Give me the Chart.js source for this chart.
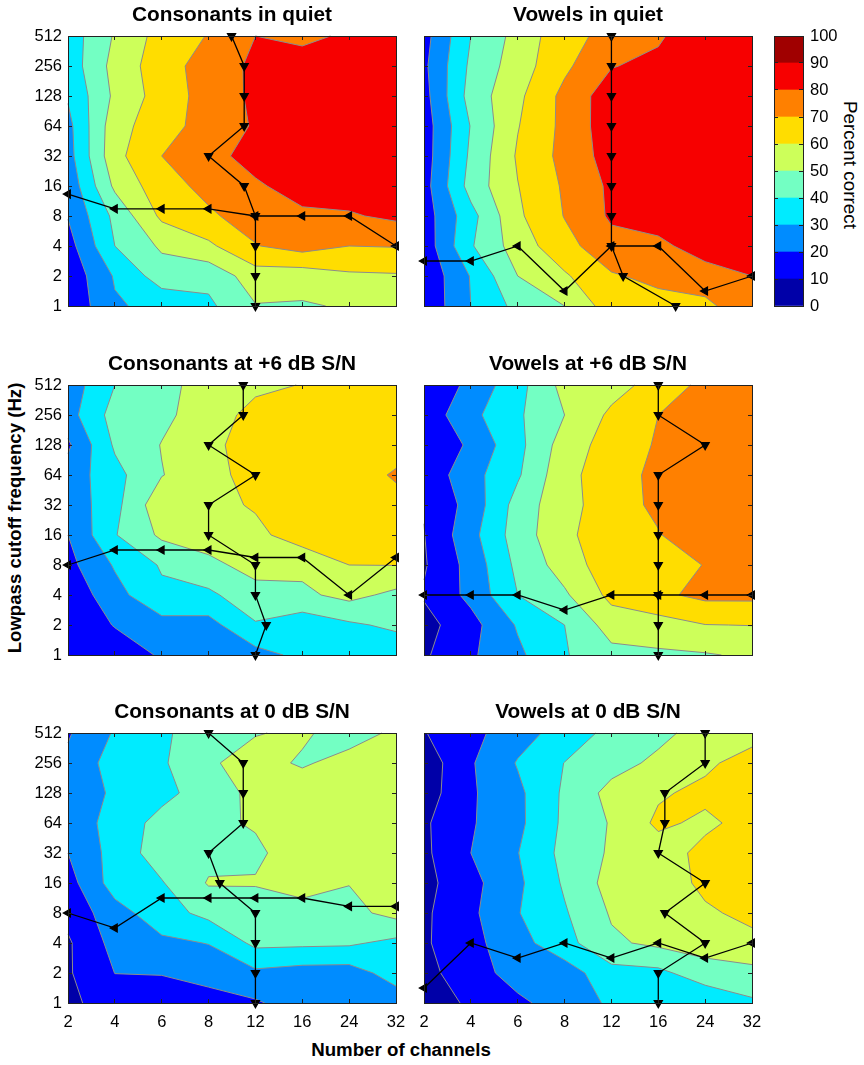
<!DOCTYPE html>
<html>
<head>
<meta charset="utf-8">
<title>Consonant and vowel recognition</title>
<script src="https://cdn.jsdelivr.net/npm/chart.js@4"></script>
<style>
  html, body { margin: 0; padding: 0; background: #fff; }
  body { position: relative; width: 864px; height: 1065px; overflow: hidden; font-family: "Liberation Sans", sans-serif; }
  canvas { position: absolute; }
  .axis-label { position: absolute; white-space: nowrap; color: #000; transform: translate(-50%, -50%); }
</style>
</head>
<body>
<div class="axis-label" style="left:15px;top:518px;font-size:18.6px;font-weight:bold;transform:translate(-50%,-50%) rotate(-90deg)">Lowpass cutoff frequency (Hz)</div>
<div class="axis-label" style="left:401px;top:1050px;font-size:18.7px;font-weight:bold">Number of channels</div>
<div class="axis-label" style="left:850px;top:165px;font-size:18.9px;transform:translate(-50%,-50%) rotate(90deg)">Percent correct</div>
<script>
const channelLabels = ["2", "4", "6", "8", "12", "16", "24", "32"];
const frequencyLabels = ["1", "2", "4", "8", "16", "32", "64", "128", "256", "512"];
const levels = [0, 10, 20, 30, 40, 50, 60, 70, 80, 90];
const levelColors = ["#0000a8", "#0000ff", "#008cff", "#00ebff", "#73ffc3", "#cdff5a", "#ffdd00", "#ff8000", "#f70000", "#a00000"];
const colorTicks = [0, 10, 20, 30, 40, 50, 60, 70, 80, 90, 100];

// percent correct, rows run from 512 Hz down to 1 Hz, columns are channelLabels
const consonantsQuiet = [
  [34.5, 51, 64, 70.5, 80, 78.5, 81, 85],
  [34, 53.5, 65.5, 74.5, 82, 83, 84, 86],
  [31, 52, 64.5, 74, 82, 84, 85, 86],
  [27, 56, 66, 74, 81, 85, 85, 86],
  [26, 57, 70, 76.5, 84, 86, 87, 87],
  [23, 52, 66, 72.8, 78.5, 84.5, 85, 87],
  [20.5, 42.5, 62, 68.5, 74.5, 78, 79, 82],
  [16, 40, 51.6, 58, 69.5, 74, 70, 70.5],
  [12.8, 31, 45, 43, 55.3, 54.5, 58.4, 59],
  [12, 28.8, 33, 38, 49.5, 49, 51, 53]
];
const vowelsQuiet = [
  [16.4, 40, 53.4, 66.7, 73, 78.5, 88, 88],
  [18, 42, 55, 68, 79.5, 82.7, 87, 88],
  [16.5, 44, 57.8, 72.8, 85.7, 88, 88, 88],
  [15, 40.5, 59.5, 72.6, 86, 88, 88, 88],
  [15, 42, 61.2, 73, 84.3, 88, 88, 88],
  [16, 44, 59.7, 71.3, 81.9, 87, 88, 88],
  [15, 36.5, 58.3, 70.4, 81.5, 85, 87, 88],
  [14, 39, 54.8, 66.7, 76.5, 77.5, 85, 86],
  [12, 30.6, 50, 58.7, 69, 72.5, 75.4, 80],
  [12, 30, 43, 50, 65.4, 66.5, 67.6, 77]
];
const consonantsPlus6 = [
  [24.3, 40, 47, 54, 58, 60.3, 63, 63],
  [26, 44, 47.5, 55.5, 63, 65, 65, 65],
  [18.4, 41.4, 50.4, 57.8, 64, 65, 65, 65],
  [24, 36.8, 49.6, 56.4, 64, 65, 64, 71.4],
  [23, 37, 57, 57, 61, 65, 66, 66],
  [20, 39.4, 51.9, 54, 57.5, 65, 65, 66],
  [17, 31, 41, 47.9, 53, 52.5, 60, 60.2],
  [12.6, 26.5, 38, 37.8, 47, 48, 53, 47.5],
  [13, 20.5, 26.4, 26.5, 39, 34, 38.4, 42],
  [11, 15, 21, 24, 26.5, 32.4, 33, 33]
];
const vowelsPlus6 = [
  [10.4, 22.9, 36.3, 53.4, 56, 64, 72.7, 75],
  [13.6, 27.3, 38.5, 50, 62, 70, 76, 76],
  [10, 22, 37, 54.6, 64.4, 71, 77, 77],
  [13, 26.3, 38.7, 57, 65.5, 72.5, 78, 78],
  [10.5, 23.7, 44, 57, 64.5, 72.5, 78, 78],
  [9.7, 26.7, 44.9, 57.6, 66.5, 69.3, 78, 78],
  [9, 23.6, 42.5, 54.5, 66, 67.5, 70.2, 78],
  [11, 22.7, 40, 48.5, 62.8, 68, 72.5, 72.5],
  [6.5, 16.5, 31, 40, 54.5, 56, 59.8, 60.2],
  [8.6, 18.6, 28, 39.2, 47, 48.3, 49.2, 51.5]
];
const consonantsZero = [
  [19, 31, 38, 46.5, 49.6, 51.2, 46.5, 51.5],
  [22, 34.5, 38.6, 49, 53, 49, 53, 56],
  [24, 31.5, 37, 45, 52.5, 55, 56, 57],
  [24, 33.7, 43.5, 47.8, 51, 56, 57, 58],
  [20, 34, 45, 47, 48, 55.7, 58, 58],
  [16, 34.6, 39.3, 50.8, 50.8, 54.2, 50.3, 58],
  [13, 26, 35.6, 43, 44, 46, 47, 53.2],
  [8.7, 23.4, 28, 30.3, 42.4, 42, 41.5, 37.3],
  [8.9, 20.1, 20.3, 24, 28, 25.8, 25.5, 34.3],
  [7.5, 15.5, 16.5, 15.5, 18.8, 24.8, 25, 24.5]
];
const vowelsZero = [
  [9.5, 17, 26, 34, 43, 47.4, 54, 56],
  [4, 19, 30.7, 40.2, 46.2, 52.2, 58, 64.5],
  [5, 18.7, 27.8, 41.6, 53.3, 58.7, 62.5, 66],
  [8.5, 19, 27.6, 42, 50.8, 62, 57.9, 63.7],
  [8, 20, 29.7, 43, 51.3, 55, 63, 66],
  [7, 17, 28.1, 41.3, 53.8, 55, 62, 66],
  [8.3, 18, 29.5, 39, 51, 54, 58.7, 62.2],
  [8.7, 17, 26.3, 36.5, 48.4, 52.1, 54.5, 57.7],
  [6.9, 15.6, 24, 25, 36.5, 37.5, 45.5, 47],
  [5, 11.5, 18, 24.5, 31.5, 32, 32, 38.4]
];

// best channel position for each frequency, 512 Hz down to 1 Hz
const bestChannelConsonantsQuiet = [3.49, 3.76, 3.76, 3.76, 3, 3.76, 4, 4, 4, 4];
const bestChannelVowelsQuiet = [4, 4, 4, 4, 4, 4, 4, 4, 4.25, 5.37];
const bestChannelConsonantsPlus6 = [3.74, 3.74, 3, 4, 3, 3, 4, 4, 4.23, 4];
const bestChannelVowelsPlus6 = [5, 5, 6, 5, 5, 5, 5, 5, 5, 5];
const bestChannelConsonantsZero = [3, 3.74, 3.74, 3.74, 3, 3.24, 4, 4, 4, 4];
const bestChannelVowelsZero = [6, 6, 5.14, 5.14, 5, 6, 5.14, 6, 5, 5];

// best frequency position for each channel count
const bestFreqConsonantsQuiet = [3.73, 3.24, 3.24, 3.24, 3, 3, 3, 2];
const bestFreqVowelsQuiet = [1.5, 1.5, 2, 0.5, 2, 2, 0.5, 1];
const bestFreqConsonantsPlus6 = [3, 3.5, 3.5, 3.5, 3.25, 3.25, 2, 3.25];
const bestFreqVowelsPlus6 = [2, 2, 2, 1.5, 2, 2, 2, 2];
const bestFreqConsonantsZero = [3, 2.5, 3.5, 3.5, 3.5, 3.5, 3.22, 3.22];
const bestFreqVowelsZero = [0.5, 2, 1.5, 2, 1.5, 2, 1.5, 2];

Chart.defaults.font.family = '"Liberation Sans", sans-serif';
Chart.defaults.color = "#000";
Chart.defaults.animation = false;

// fills and outlines the contour bands for a grid, cell by cell
const contourPlugin = {
  id: "contour",
  beforeDatasetsDraw(chart, args, opts) {
    const grid = opts.grid;
    if (!grid) return;
    const { ctx, scales } = chart;
    const px = p => [scales.x.getPixelForValue(p.c), scales.y.getPixelForValue(p.r)];
    const lines = [];
    ctx.save();
    levels.forEach((level, k) => {
      ctx.beginPath();
      for (let r = 0; r < grid.length - 1; r++) {
        for (let c = 0; c < grid[r].length - 1; c++) {
          const corners = [
            { c: c, r: 9 - r, v: grid[r][c] },
            { c: c + 1, r: 9 - r, v: grid[r][c + 1] },
            { c: c + 1, r: 8 - r, v: grid[r + 1][c + 1] },
            { c: c, r: 8 - r, v: grid[r + 1][c] }
          ];
          const cell = clipCell(corners, level);
          cell.polys.forEach(poly => {
            poly.forEach((p, i) => {
              const [x, y] = px(p);
              if (i === 0) ctx.moveTo(x, y); else ctx.lineTo(x, y);
            });
            ctx.closePath();
          });
          if (level > 0) lines.push(...cell.segs);
        }
      }
      ctx.fillStyle = levelColors[k];
      ctx.fill();
    });
    ctx.beginPath();
    lines.forEach(([a, b]) => {
      ctx.moveTo(...px(a));
      ctx.lineTo(...px(b));
    });
    ctx.strokeStyle = "#8c8c8c";
    ctx.lineWidth = 1;
    ctx.stroke();
    ctx.restore();
  }
};

function crossing(a, b, level) {
  const t = (level - a.v) / (b.v - a.v);
  return { c: a.c + (b.c - a.c) * t, r: a.r + (b.r - a.r) * t };
}

// part of a grid cell at or above level, plus the contour pieces across it
function clipCell(corners, level) {
  const inside = corners.map(p => p.v >= level);
  const mean = corners.reduce((s, p) => s + p.v, 0) / 4;
  const saddle = inside[0] === inside[2] && inside[1] === inside[3] && inside[0] !== inside[1];
  const polys = [];
  const segs = [];

  // saddle with a low centre: the two high corners stay apart
  if (saddle && mean < level) {
    corners.forEach((p, i) => {
      if (!inside[i]) return;
      const before = crossing(corners[(i + 3) % 4], p, level);
      const after = crossing(p, corners[(i + 1) % 4], level);
      polys.push([before, p, after]);
      segs.push([after, before]);
    });
    return { polys, segs };
  }

  const poly = [];
  let firstEnter = null;
  let lastExit = null;
  corners.forEach((a, i) => {
    const b = corners[(i + 1) % 4];
    if (inside[i]) poly.push(a);
    if (inside[i] !== inside[(i + 1) % 4]) {
      const p = crossing(a, b, level);
      poly.push(p);
      if (inside[i]) {
        lastExit = p;
      } else if (lastExit) {
        segs.push([lastExit, p]);
        lastExit = null;
      } else {
        firstEnter = p;
      }
    }
  });
  if (lastExit && firstEnter) segs.push([lastExit, firstEnter]);
  if (poly.length) polys.push(poly);
  return { polys, segs };
}

// keeps the axis box at a fixed size, tick labels must not squeeze the plot
function fixSize(s, width, height) {
  if (width !== null) s.width = width;
  if (height !== null) s.height = height;
  s.paddingLeft = s.paddingRight = s.paddingTop = s.paddingBottom = 0;
}

function tickGrid() {
  return { drawOnChartArea: false, tickLength: -4, color: "#222", z: 1 };
}

function edgeAxis(axis, position, max, step) {
  return {
    type: "linear",
    axis,
    position,
    min: 0,
    max,
    ticks: { display: false, stepSize: step },
    grid: tickGrid(),
    border: { color: "#222", z: 1 },
    afterFit(s) { if (axis === "x") fixSize(s, null, 0); else fixSize(s, 0, null); }
  };
}

function pathDataset(points, rotation) {
  return {
    data: points,
    showLine: true,
    borderColor: "#000",
    borderWidth: 1.3,
    backgroundColor: "#000",
    pointStyle: "triangle",
    pointRotation: rotation,
    pointRadius: 4.6,
    clip: false
  };
}

function drawPanel(cfg) {
  const leftW = cfg.yLabels ? 50 : 12;
  const bottomH = cfg.xLabels ? 34 : 12;
  const canvas = document.createElement("canvas");
  canvas.width = leftW + 328 + 12;
  canvas.height = 31 + 270 + bottomH;
  canvas.style.left = (cfg.left - leftW) + "px";
  canvas.style.top = (cfg.top - 31) + "px";
  document.body.appendChild(canvas);

  const downPoints = cfg.bestChannel.map((c, i) => ({ x: c, y: 9 - i }));
  const leftPoints = cfg.bestFreq.map((f, i) => ({ x: i, y: f }));

  return new Chart(canvas, {
    type: "scatter",
    data: { datasets: [pathDataset(downPoints, 180), pathDataset(leftPoints, 270)] },
    plugins: [contourPlugin],
    options: {
      responsive: false,
      layout: { padding: { left: 0, right: 12, top: 0, bottom: 0 } },
      plugins: {
        legend: { display: false },
        tooltip: { enabled: false },
        contour: { grid: cfg.grid },
        title: {
          display: true,
          text: cfg.title,
          fullSize: false,
          font: { size: 20.8, weight: "bold", lineHeight: "20px" },
          padding: { top: 0, bottom: 11 },
          color: "#000"
        }
      },
      scales: {
        x: {
          type: "linear",
          min: 0,
          max: 7,
          ticks: {
            display: cfg.xLabels,
            stepSize: 1,
            padding: 14,
            maxRotation: 0,
            autoSkip: false,
            font: { size: 16.5 },
            callback: v => channelLabels[v]
          },
          grid: tickGrid(),
          border: { color: "#222", z: 1 },
          afterFit(s) { fixSize(s, null, bottomH); }
        },
        y: {
          type: "linear",
          min: 0,
          max: 9,
          ticks: {
            display: cfg.yLabels,
            stepSize: 1,
            padding: 10,
            autoSkip: false,
            font: { size: 16.5 },
            callback: v => frequencyLabels[v]
          },
          grid: tickGrid(),
          border: { color: "#222", z: 1 },
          afterFit(s) { fixSize(s, leftW, null); }
        },
        xTop: edgeAxis("x", "top", 7, 1),
        yRight: edgeAxis("y", "right", 9, 1)
      }
    }
  });
}

function drawColorbar() {
  const canvas = document.createElement("canvas");
  canvas.width = 12 + 29 + 44;
  canvas.height = 270 + 24;
  canvas.style.left = "762px";
  canvas.style.top = "24px";
  document.body.appendChild(canvas);
  const edgeBorder = { color: "#222", z: 1 };
  return new Chart(canvas, {
    type: "bar",
    data: {
      labels: ["Percent correct"],
      datasets: levels.map((level, k) => ({
        data: [colorTicks[k + 1] - level],
        backgroundColor: levelColors[k],
        barPercentage: 1,
        categoryPercentage: 1,
        stack: "bar"
      }))
    },
    options: {
      responsive: false,
      layout: { padding: { top: 12, bottom: 12, left: 12, right: 0 } },
      plugins: { legend: { display: false }, tooltip: { enabled: false } },
      scales: {
        x: {
          stacked: true,
          ticks: { display: false },
          grid: { display: false },
          border: edgeBorder,
          afterFit(s) { fixSize(s, null, 0); }
        },
        xTop: { type: "category", axis: "x", position: "top", labels: ["Percent correct"], ticks: { display: false }, grid: { display: false }, border: edgeBorder, afterFit(s) { fixSize(s, null, 0); } },
        yLeft: edgeAxis("y", "left", 100, 10),
        y: {
          stacked: true,
          position: "right",
          min: 0,
          max: 100,
          ticks: {
            stepSize: 10,
            padding: 11,
            font: { size: 16.5 },
            callback: v => String(v)
          },
          grid: tickGrid(),
          border: edgeBorder,
          afterFit(s) { fixSize(s, 44, null); }
        }
      }
    }
  });
}

drawPanel({ title: "Consonants in quiet", grid: consonantsQuiet, bestChannel: bestChannelConsonantsQuiet, bestFreq: bestFreqConsonantsQuiet, left: 68, top: 36, yLabels: true, xLabels: false });
drawPanel({ title: "Vowels in quiet", grid: vowelsQuiet, bestChannel: bestChannelVowelsQuiet, bestFreq: bestFreqVowelsQuiet, left: 424, top: 36, yLabels: false, xLabels: false });
drawPanel({ title: "Consonants at +6 dB S/N", grid: consonantsPlus6, bestChannel: bestChannelConsonantsPlus6, bestFreq: bestFreqConsonantsPlus6, left: 68, top: 385, yLabels: true, xLabels: false });
drawPanel({ title: "Vowels at +6 dB S/N", grid: vowelsPlus6, bestChannel: bestChannelVowelsPlus6, bestFreq: bestFreqVowelsPlus6, left: 424, top: 385, yLabels: false, xLabels: false });
drawPanel({ title: "Consonants at 0 dB S/N", grid: consonantsZero, bestChannel: bestChannelConsonantsZero, bestFreq: bestFreqConsonantsZero, left: 68, top: 733, yLabels: true, xLabels: true });
drawPanel({ title: "Vowels at 0 dB S/N", grid: vowelsZero, bestChannel: bestChannelVowelsZero, bestFreq: bestFreqVowelsZero, left: 424, top: 733, yLabels: false, xLabels: true });
drawColorbar();
</script>
</body>
</html>
